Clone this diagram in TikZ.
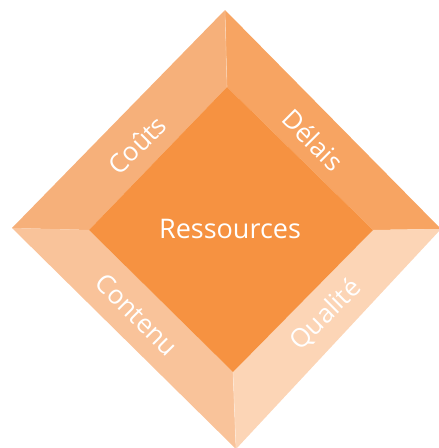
\documentclass[tikz,border=0pt]{standalone}
\usepackage{fontspec}
\setmainfont{Open Sans}
\definecolor{faceTL}{HTML}{F6B07A}
\definecolor{faceTR}{HTML}{F7A462}
\definecolor{faceBL}{HTML}{F9C39A}
\definecolor{faceBR}{HTML}{FCD5B6}
\definecolor{core}{HTML}{F69241}
\begin{document}
\begin{tikzpicture}[x=1pt,y=-1pt,
  lbl/.style={text=white,font=\fontsize{26}{28}\selectfont,inner sep=0pt},
  seam/.style={draw=white,draw opacity=0.35,line width=0.6pt}]
\useasboundingbox (0,0) rectangle (439,448);
% outer vertices
\coordinate (OT) at (225,10);
\coordinate (OR) at (441,229);
\coordinate (OB) at (236,449);
\coordinate (OL) at (12,228);
% inner vertices
\coordinate (IT) at (227,87);
\coordinate (IR) at (373,230);
\coordinate (IB) at (233,372);
\coordinate (IL) at (89,230);
% faces
\fill[faceTL] (OL) -- (OT) -- (IT) -- (IL) -- cycle;
\fill[faceTR] (OT) -- (OR) -- (IR) -- (IT) -- cycle;
\fill[faceBL] (OL) -- (IL) -- (IB) -- (OB) -- cycle;
\fill[faceBR] (OB) -- (IB) -- (IR) -- (OR) -- cycle;
\fill[core] (IT) -- (IR) -- (IB) -- (IL) -- cycle;
% seams
\draw[seam] (OT) -- (IT);
\draw[seam] (OB) -- (IB);
% labels
\node[lbl,font=\fontsize{27}{29}\selectfont] (res) at (230,229) {Ressources};
\node[lbl,rotate=45] (couts) at (137,145) {Coûts};
\node[lbl,rotate=-45] (delais) at (313,140) {Délais};
\node[lbl,rotate=-45] (contenu) at (137,315) {Contenu};
\node[lbl,rotate=45] (qualite) at (326,315) {Qualité};
\end{tikzpicture}
\end{document}
